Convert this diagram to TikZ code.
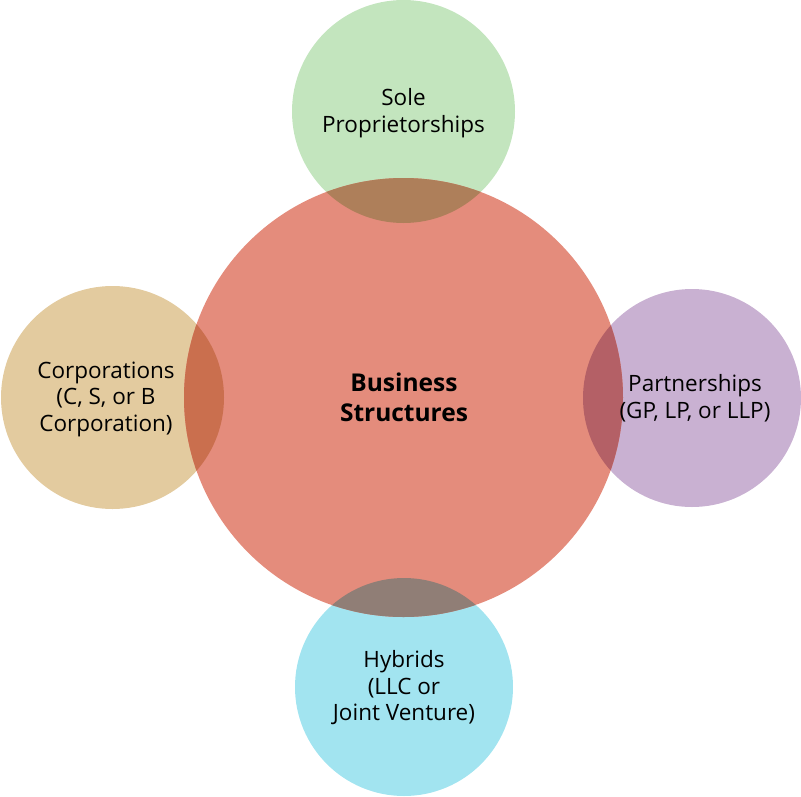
\documentclass[tikz,border=0pt]{standalone}
\usepackage{fontspec}
\setmainfont{Open Sans}
\definecolor{cmain}{HTML}{E48C7C}
\definecolor{cgreen}{HTML}{C3E5BE}
\definecolor{ctan}{HTML}{E3CB9F}
\definecolor{cpurple}{HTML}{C9B1D2}
\definecolor{ccyan}{HTML}{A2E4F0}
\definecolor{ogreen}{HTML}{AE7F5A}
\definecolor{otan}{HTML}{CA6F4E}
\definecolor{opurple}{HTML}{B46066}
\definecolor{ocyan}{HTML}{907E76}
\begin{document}
\begin{tikzpicture}[x=1pt,y=-1pt,
  bubble/.style={circle, inner sep=0pt, draw=none},
  lbl/.style={align=center, font=\fontsize{22.5}{26.5}\selectfont, text=black, inner sep=0pt},
  mainlbl/.style={align=center, font=\fontsize{24.5}{30}\selectfont\bfseries, text=black, inner sep=0pt}]
\useasboundingbox (0,0) rectangle (801,796);
% circles
\node[bubble, fill=cgreen, minimum size=223pt] (sole) at (403.5,111.5) {};
\node[bubble, fill=ctan, minimum size=223pt] (corp) at (112.5,397.5) {};
\node[bubble, fill=cpurple, minimum size=218pt] (part) at (692,398) {};
\node[bubble, fill=ccyan, minimum size=218pt] (hyb) at (404,687) {};
\node[bubble, fill=cmain, minimum size=439pt] (main) at (403.5,397.5) {};
% overlaps
\begin{scope}
  \clip (sole.center) circle (111.5);
  \fill[ogreen] (main.center) circle (219.5);
\end{scope}
\begin{scope}
  \clip (corp.center) circle (111.5);
  \fill[otan] (main.center) circle (219.5);
\end{scope}
\begin{scope}
  \clip (part.center) circle (109);
  \fill[opurple] (main.center) circle (219.5);
\end{scope}
\begin{scope}
  \clip (hyb.center) circle (109);
  \fill[ocyan] (main.center) circle (219.5);
\end{scope}
% labels
\node[lbl] (tsole) at (403.5,113) {Sole\\Proprietorships};
\node[lbl] (tcorp) at (106,399) {Corporations\\(C, S, or B\\Corporation)};
\node[lbl] (tpart) at (695,398) {Partnerships\\(GP, LP, or LLP)};
\node[lbl] (thyb) at (404,688) {Hybrids\\(LLC or\\Joint Venture)};
\node[mainlbl] (tmain) at (404,397) {Business\\Structures};
\end{tikzpicture}
\end{document}
